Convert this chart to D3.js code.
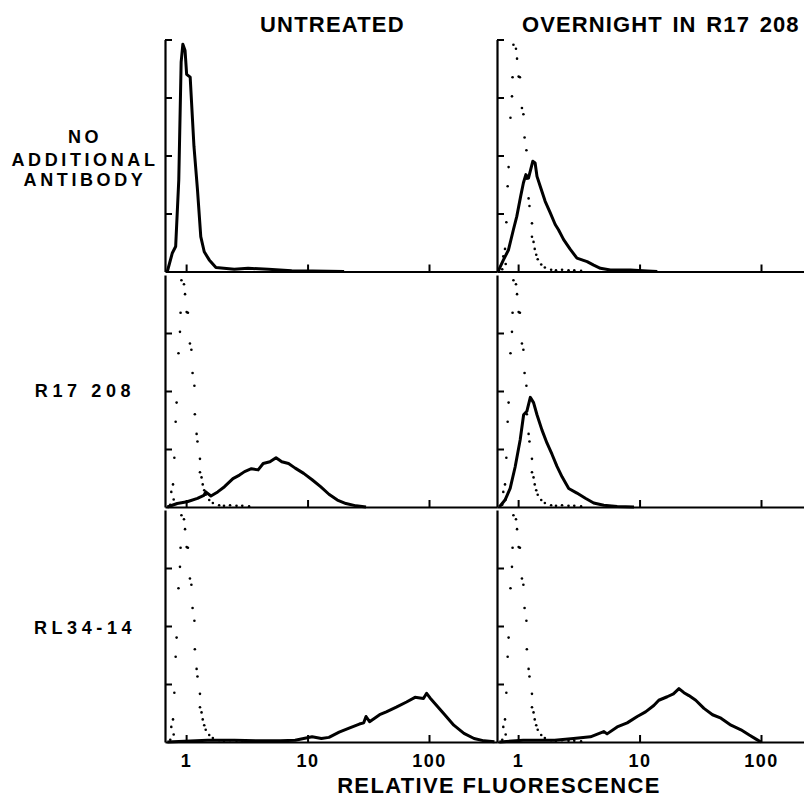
<!DOCTYPE html>
<html>
<head>
<meta charset="utf-8">
<script src="https://cdn.jsdelivr.net/npm/d3@7"></script>
<style>
  body { margin: 0; background: #fff; }
  svg { display: block; font-family: "Liberation Sans", Helvetica, Arial, sans-serif; }
</style>
</head>
<body>
<div id="chart-area"></div>
<script>
// column / row labels
const columns = ["UNTREATED", "OVERNIGHT IN R17 208"]
const rows = [["NO", "ADDITIONAL", "ANTIBODY"], ["R17 208"], ["RL34-14"]]
const xTicks = [1, 10, 100]
const yTicks = [1, 2, 3]

// control histogram (dotted), [relative fluorescence, count]
const control = [
  [0.74, 0.04], [0.755, 0.26], [0.78, 0.39], [0.79, 0.13], [0.80, 0.85], [0.82, 1.47],
  [0.835, 1.80], [0.865, 2.65], [0.89, 3.02], [0.90, 3.35], [0.915, 3.91], [0.96, 3.84],
  [0.98, 3.67], [1.01, 3.36], [1.035, 3.35], [1.075, 2.82], [1.105, 2.71], [1.13, 2.31],
  [1.17, 2.09], [1.18, 1.60], [1.22, 1.26], [1.24, 1.13], [1.30, 0.83], [1.30, 0.60],
  [1.34, 0.51], [1.37, 0.39], [1.41, 0.29], [1.45, 0.21], [1.55, 0.12], [1.66, 0.07],
  [1.87, 0.03], [2.05, 0.02], [2.3, 0.03], [2.6, 0.02], [2.9, 0.02], [3.3, 0.01]
]

// stained histograms (solid)
const untreatedNone = [
  [0.70, 0], [0.77, 0.32], [0.82, 0.43], [0.87, 1.58], [0.91, 3.61], [0.94, 3.92],
  [0.98, 3.81], [1.01, 3.40], [1.08, 3.35], [1.16, 2.16], [1.24, 1.41], [1.32, 0.60],
  [1.41, 0.34], [1.55, 0.20], [1.76, 0.07], [2.49, 0.04], [3.24, 0.055], [4.75, 0.04],
  [7.4, 0.015], [11, 0.01], [20, 0]
]
const overnightNone = [
  [0.687, 0.01], [0.757, 0.20], [0.832, 0.37], [0.914, 0.72], [0.975, 0.95], [1.05, 1.30],
  [1.106, 1.53], [1.158, 1.67], [1.217, 1.61], [1.27, 1.76], [1.32, 1.90], [1.38, 1.87],
  [1.43, 1.64], [1.52, 1.47], [1.67, 1.21], [1.84, 1.01], [2.02, 0.81], [2.15, 0.72],
  [2.37, 0.55], [2.69, 0.38], [3.05, 0.23], [3.70, 0.17], [4.19, 0.11], [4.76, 0.055],
  [5.75, 0.025], [8.4, 0.025], [11.6, 0.01], [14, 0]
]
const untreatedR17 = [
  [0.70, 0], [0.845, 0.06], [1.02, 0.09], [1.24, 0.15], [1.40, 0.20], [1.45, 0.26],
  [1.60, 0.19], [1.82, 0.26], [2.07, 0.35], [2.43, 0.49], [2.75, 0.55], [3.03, 0.61],
  [3.45, 0.66], [3.92, 0.64], [4.31, 0.75], [4.90, 0.78], [5.50, 0.85], [6.13, 0.78],
  [6.97, 0.75], [7.91, 0.67], [9.29, 0.58], [10.9, 0.47], [12.8, 0.35], [15.0, 0.22],
  [17.6, 0.12], [20.7, 0.06], [25.1, 0.02], [30.3, 0]
]
const overnightR17 = [
  [0.70, 0], [0.78, 0.12], [0.86, 0.32], [0.945, 0.69], [1.04, 1.16], [1.11, 1.59],
  [1.18, 1.65], [1.26, 1.89], [1.34, 1.80], [1.43, 1.59], [1.57, 1.33], [1.73, 1.10],
  [1.90, 0.91], [2.09, 0.70], [2.30, 0.52], [2.61, 0.32], [3.05, 0.24], [3.58, 0.15],
  [4.19, 0.07], [5.07, 0.03], [6.54, 0.01], [9, 0]
]
const untreatedRL = [
  [0.70, 0], [1.5, 0.03], [2.5, 0.03], [4, 0.02], [6, 0.02], [7.9, 0.03], [10.9, 0.09],
  [13, 0.06], [15.0, 0.08], [18.2, 0.17], [22.0, 0.24], [26.7, 0.31], [29, 0.33],
  [30.3, 0.44], [32.4, 0.35], [39.2, 0.47], [44.5, 0.52], [53.8, 0.60], [65.3, 0.69],
  [76.7, 0.77], [90, 0.75], [95.6, 0.84], [102, 0.76], [109, 0.69], [132, 0.49],
  [160, 0.29], [194, 0.15], [235, 0.06], [284, 0.02], [346, 0.005]
]
const overnightRL = [
  [0.70, 0], [1.1, 0.03], [2.0, 0.03], [2.86, 0.06], [3.94, 0.09], [5.07, 0.18],
  [5.4, 0.14], [6.54, 0.26], [7.91, 0.33], [9.57, 0.44], [11.2, 0.52], [13.1, 0.63],
  [14.4, 0.72], [16.9, 0.78], [19.0, 0.83], [21.1, 0.92], [23.2, 0.85], [25.5, 0.80],
  [29.0, 0.72], [33.9, 0.58], [39.9, 0.47], [46.8, 0.41], [56.6, 0.29], [68.4, 0.21],
  [80, 0.12], [91, 0.05], [100, 0]
]

const panels = [
  { row: 0, col: 0, solid: untreatedNone, dots: null },
  { row: 0, col: 1, solid: overnightNone, dots: control },
  { row: 1, col: 0, solid: untreatedR17, dots: control },
  { row: 1, col: 1, solid: overnightR17, dots: control },
  { row: 2, col: 0, solid: untreatedRL, dots: control },
  { row: 2, col: 1, solid: overnightRL, dots: control }
]

const WIDTH = 804
const HEIGHT = 797
const COL_X = [165, 497]
const PANEL_W = 332
const BASE_Y = [271.5, 507, 742]
const PANEL_H = 232

const svg = d3.select("#chart-area").append("svg")
  .attr("width", WIDTH)
  .attr("height", HEIGHT)

svg.append("rect")
  .attr("width", WIDTH)
  .attr("height", HEIGHT)
  .attr("fill", "#fff")

// Scales
const xScales = COL_X.map(x0 => d3.scaleLog()
  .domain([0.67, 363])
  .range([x0, x0 + PANEL_W]))
const yScales = BASE_Y.map(b => d3.scaleLinear()
  .domain([0, 4])
  .range([b, b - PANEL_H]))

// Panels
panels.forEach(p => {
  const x = xScales[p.col]
  const y = yScales[p.row]
  const g = svg.append("g")

  const line = d3.line()
    .x(d => x(d[0]))
    .y(d => y(d[1]))

  g.append("path")
    .datum(p.solid)
    .attr("fill", "none")
    .attr("stroke", "#000")
    .attr("stroke-width", 3)
    .attr("stroke-linejoin", "round")
    .attr("d", line)

  if (p.dots) {
    g.selectAll("circle")
      .data(p.dots)
      .enter().append("circle")
      .attr("cx", d => x(d[0]))
      .attr("cy", d => y(d[1]))
      .attr("r", 1.3)
      .attr("fill", "#000")
  }
})

// X axes (ticks point up into the panel)
BASE_Y.forEach((b, r) => {
  xScales.forEach(x => {
    const axis = d3.axisBottom(x)
      .tickValues(xTicks)
      .tickSizeInner(-7)
      .tickSizeOuter(0)
      .tickPadding(12)
      .tickFormat(r === 2 ? d3.format("") : "")
    const ax = svg.append("g")
      .attr("transform", `translate(0, ${b})`)
      .call(axis)
    ax.select(".domain").attr("stroke-width", 2.2)
    ax.selectAll(".tick line").attr("stroke-width", 2)
    ax.selectAll(".tick text")
      .attr("font-size", "18px")
      .attr("font-weight", "bold")
      .attr("letter-spacing", "1.5px")
      .attr("font-family", "'Liberation Sans', Helvetica, Arial, sans-serif")
      .attr("fill", "#000")
  })
})

// Y axes (ticks point right)
BASE_Y.forEach((b, r) => {
  COL_X.forEach(x0 => {
    const axis = d3.axisRight(yScales[r])
      .tickValues(r === 0 ? yTicks.concat([4]) : yTicks)
      .tickSizeInner(7)
      .tickSizeOuter(0)
      .tickFormat("")
    const ax = svg.append("g")
      .attr("transform", `translate(${x0}, 0)`)
      .call(axis)
    ax.select(".domain").attr("stroke-width", 2.2)
    ax.selectAll(".tick line").attr("stroke-width", 2)
  })
})

// Column headers
svg.append("text")
  .attr("x", 260)
  .attr("y", 32)
  .attr("font-size", "22px")
  .attr("letter-spacing", "1.2px")
  .attr("font-weight", "bold")
  .text(columns[0])
svg.append("text")
  .attr("x", 522)
  .attr("y", 32)
  .attr("font-size", "22px")
  .attr("letter-spacing", "1.1px")
  .attr("word-spacing", "2.5px")
  .attr("font-weight", "bold")
  .text(columns[1])

// Row labels
const rowLabelY = [[143, 165.5, 186], [397], [634]]
rows.forEach((lines, r) => {
  lines.forEach((t, i) => {
    svg.append("text")
      .attr("x", 85)
      .attr("y", rowLabelY[r][i])
      .attr("text-anchor", "middle")
      .attr("font-size", "18px")
      .attr("font-weight", "bold")
      .attr("letter-spacing", r === 0 ? "3.6px" : "4.6px")
      .text(t)
  })
})

// X label
svg.append("text")
  .attr("x", 499)
  .attr("y", 793)
  .attr("text-anchor", "middle")
  .attr("font-size", "22px")
  .attr("font-weight", "bold")
  .attr("letter-spacing", "1.35px")
  .text("RELATIVE FLUORESCENCE")
</script>
</body>
</html>
